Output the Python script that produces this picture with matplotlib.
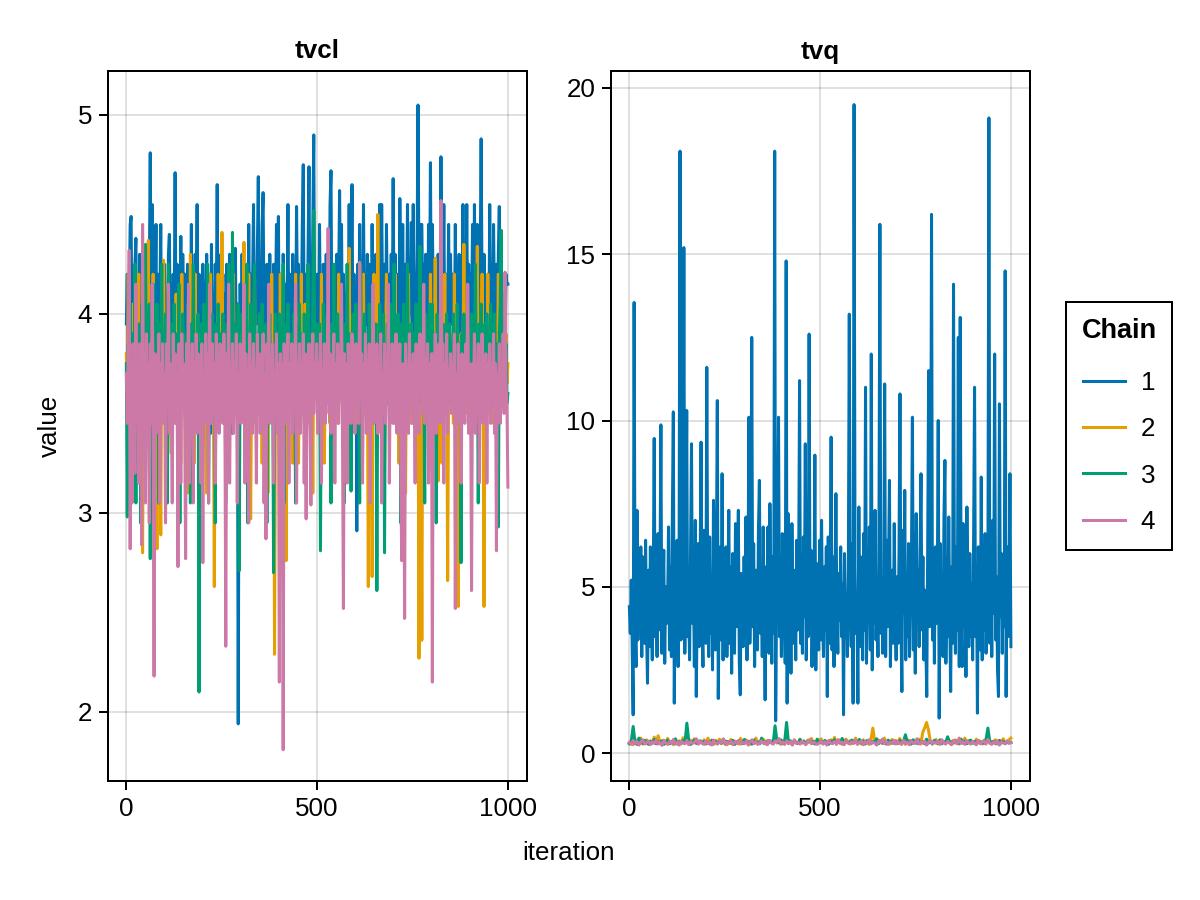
import numpy as np
import matplotlib
matplotlib.use("Agg")
import matplotlib.pyplot as plt
from matplotlib.lines import Line2D

plt.rcParams['font.family'] = ['Liberation Sans', 'DejaVu Sans']

params = ["tvcl", "tvq"]
chains = ["1", "2", "3", "4"]
colors = ["#0072B2", "#E69F00", "#009E73", "#CC79A7"]

tvcl_c1 = [
    3.95, 4.20, 3.62, 4.05, 4.45, 4.49, 3.80, 4.15, 3.30, 4.25, 4.38, 3.70, 4.10, 3.90, 4.30, 3.65, 4.15, 4.00, 3.85, 4.25,
    3.75, 4.30, 4.05, 3.40, 4.20, 4.81, 3.85, 4.55, 3.70, 4.10, 3.95, 4.45, 3.40, 4.20, 3.90, 4.05, 4.45, 3.75, 4.15, 3.95,
    4.25, 3.80, 4.05, 3.65, 4.30, 4.40, 3.90, 4.15, 3.70, 4.20, 3.95, 4.71, 3.85, 4.25, 3.40, 4.10, 4.00, 4.39, 3.75, 4.30,
    3.90, 4.20, 3.30, 4.05, 4.25, 3.80, 4.15, 3.95, 4.45, 3.70, 4.10, 3.85, 4.30, 4.00, 4.55, 3.75, 4.20, 3.90, 4.05, 3.65,
    4.25, 3.95, 4.15, 3.70, 4.30, 3.85, 4.05, 4.20, 3.40, 4.35, 3.90, 4.10, 3.75, 4.25, 4.00, 4.65, 3.85, 4.15, 3.70, 4.30,
    3.95, 4.20, 3.65, 4.10, 3.85, 4.25, 4.00, 3.75, 4.30, 3.90, 4.15, 3.40, 4.20, 3.95, 4.33, 3.80, 4.05, 1.94, 3.70, 4.15,
    3.85, 4.30, 3.95, 4.10, 3.70, 4.25, 4.00, 3.80, 4.45, 3.90, 4.20, 3.65, 4.15, 4.55, 3.85, 4.05, 3.95, 4.30, 4.69, 3.90,
    4.20, 3.80, 4.45, 4.61, 3.95, 4.15, 3.70, 4.25, 4.00, 3.85, 4.30, 3.95, 4.10, 3.75, 4.25, 3.90, 4.05, 4.45, 3.80, 4.49,
    3.85, 4.20, 3.95, 3.40, 4.30, 4.05, 3.75, 4.15, 3.95, 4.55, 3.80, 4.20, 4.05, 3.70, 4.30, 3.90, 4.15, 3.85, 4.54, 4.00,
    4.25, 3.80, 4.10, 3.95, 4.45, 4.75, 3.90, 4.20, 4.00, 3.75, 4.30, 4.74, 3.95, 4.15, 3.85, 4.45, 4.90, 3.85, 4.20, 4.00,
    4.20, 3.70, 4.45, 3.95, 4.10, 3.80, 4.25, 4.00, 3.75, 4.30, 3.90, 4.15, 3.85, 4.55, 4.72, 3.90, 4.25, 3.95, 4.10, 3.75,
    4.30, 3.85, 4.15, 4.62, 4.00, 4.45, 3.80, 4.20, 3.95, 4.10, 3.70, 4.25, 3.90, 4.55, 3.85, 4.15, 4.65, 3.80, 4.20, 3.95,
    4.10, 2.91, 4.25, 3.90, 4.45, 3.75, 4.20, 4.00, 4.55, 3.85, 4.15, 3.95, 4.30, 3.80, 4.25, 4.05, 3.70, 4.45, 3.90, 4.20,
    4.00, 4.30, 3.85, 4.15, 3.95, 4.55, 3.80, 4.55, 4.05, 3.90, 4.25, 3.75, 4.45, 4.00, 3.85, 4.20, 3.95, 4.30, 3.90, 4.68,
    3.95, 4.30, 3.80, 4.20, 4.05, 3.85, 4.58, 4.10, 3.90, 4.45, 3.85, 4.00, 4.25, 3.95, 4.55, 3.90, 4.15, 4.00, 4.46, 3.85,
    4.55, 3.95, 4.20, 3.85, 4.30, 5.05, 4.20, 3.85, 4.45, 4.45, 4.00, 4.25, 3.90, 4.30, 4.05, 3.80, 4.45, 4.00, 4.76, 3.90,
    4.45, 4.05, 3.85, 4.25, 4.00, 3.80, 4.30, 4.10, 3.95, 4.79, 4.10, 3.95, 4.55, 3.85, 4.20, 4.00, 3.90, 4.45, 3.75, 4.30,
    3.95, 4.20, 4.05, 3.85, 4.45, 3.90, 4.15, 4.00, 4.30, 3.80, 4.25, 3.95, 4.55, 3.85, 4.20, 4.05, 4.55, 3.90, 4.25, 3.85,
    4.20, 3.95, 4.45, 3.85, 4.55, 4.05, 3.90, 4.45, 4.00, 3.80, 4.25, 4.88, 4.10, 3.80, 4.30, 3.95, 4.15, 3.90, 4.20, 3.85,
    4.55, 3.95, 4.15, 3.85, 4.45, 4.00, 3.90, 4.25, 3.80, 4.30, 4.54, 3.90, 4.25, 3.95, 4.10, 4.00, 3.85, 4.20, 4.15, 4.15]

tvcl_c2 = [
    3.80, 3.55, 4.20, 3.70, 3.25, 3.85, 3.60, 4.05, 3.50, 3.75, 3.90, 3.45, 3.70, 4.20, 3.55, 3.80, 3.25, 2.80, 3.75, 3.60,
    3.45, 3.90, 3.65, 4.37, 3.55, 3.80, 3.10, 3.70, 4.20, 3.50, 3.85, 3.60, 2.82, 3.70, 3.90, 3.45, 2.89, 3.75, 4.20, 4.27,
    3.50, 3.85, 3.65, 3.25, 4.20, 3.60, 3.75, 3.30, 3.90, 3.55, 3.80, 3.45, 4.10, 3.65, 3.50, 3.85, 3.70, 3.25, 4.20, 3.60,
    3.75, 3.50, 3.80, 3.65, 3.10, 3.85, 3.55, 4.30, 3.70, 3.50, 3.85, 3.25, 4.20, 3.60, 3.75, 3.45, 3.90, 3.55, 3.80, 3.65,
    3.45, 3.90, 3.60, 3.75, 3.10, 3.85, 3.55, 3.70, 4.20, 3.50, 3.80, 3.60, 2.63, 3.70, 3.85, 3.45, 4.20, 3.60, 3.75, 3.50,
    4.41, 3.60, 3.85, 3.55, 3.70, 3.25, 3.90, 3.65, 3.80, 3.45, 3.75, 3.55, 4.20, 3.60, 3.85, 3.50, 3.70, 3.45, 3.90, 3.65,
    3.80, 3.55, 3.70, 4.36, 3.65, 3.85, 3.50, 3.75, 4.20, 3.60, 2.97, 3.70, 3.85, 3.45, 4.20, 3.60, 3.75, 3.50, 3.85, 3.55,
    4.00, 3.65, 3.25, 3.80, 3.55, 3.75, 3.60, 3.90, 3.10, 3.70, 3.85, 3.50, 4.20, 3.60, 3.75, 2.29, 3.65, 3.80, 3.45, 3.90,
    3.55, 4.20, 3.70, 3.45, 3.85, 3.60, 3.75, 2.76, 3.65, 3.80, 3.50, 3.90, 3.55, 3.75, 3.25, 3.85, 3.60, 4.20, 3.50, 3.80,
    3.25, 3.75, 3.60, 4.20, 3.50, 3.85, 3.65, 4.05, 3.55, 3.80, 3.45, 3.70, 3.90, 3.55, 3.75, 3.10, 3.85, 3.60, 3.90, 3.65,
    3.80, 3.55, 3.75, 3.50, 4.20, 3.60, 3.85, 3.25, 3.70, 3.90, 3.55, 3.80, 3.65, 3.45, 3.85, 3.37, 3.90, 3.60, 3.75, 3.55,
    3.80, 3.45, 4.20, 3.60, 4.00, 3.70, 3.55, 3.85, 3.65, 3.25, 3.75, 3.90, 3.55, 4.33, 3.60, 3.80, 3.50, 3.70, 3.85, 3.55,
    3.45, 3.90, 3.60, 3.75, 3.25, 3.85, 3.55, 3.70, 4.20, 3.50, 3.80, 3.60, 3.85, 2.63, 3.70, 3.55, 3.90, 2.68, 3.75, 4.20,
    3.50, 3.80, 3.65, 4.50, 3.55, 3.75, 3.45, 3.90, 3.60, 3.85, 3.25, 3.75, 4.20, 3.55, 3.80, 3.60, 3.45, 3.90, 3.65, 3.85,
    3.45, 4.20, 3.55, 3.70, 3.85, 3.25, 3.75, 3.60, 3.90, 3.50, 3.80, 3.65, 3.10, 3.85, 3.55, 4.20, 3.60, 3.75, 3.45, 3.80,
    3.55, 3.90, 3.60, 3.75, 3.45, 3.85, 2.27, 3.70, 3.60, 2.36, 3.75, 3.50, 3.90, 3.45, 3.85, 3.60, 3.75, 3.55, 4.20, 3.60,
    3.75, 3.50, 3.85, 4.28, 3.65, 3.80, 3.16, 3.90, 3.55, 3.75, 3.25, 3.85, 3.60, 4.20, 3.50, 3.80, 2.66, 3.70, 3.55, 3.90,
    3.60, 3.75, 3.45, 4.20, 3.55, 3.85, 3.70, 2.53, 3.80, 3.60, 3.90, 3.45, 3.75, 4.35, 3.60, 3.85, 3.50, 3.80, 3.65, 3.90,
    3.55, 3.75, 3.45, 3.90, 3.60, 3.80, 3.55, 4.34, 3.70, 3.85, 3.50, 3.75, 4.20, 3.60, 2.53, 3.70, 3.85, 3.55, 4.20, 3.65,
    3.50, 3.80, 3.60, 3.90, 3.45, 3.75, 3.55, 3.85, 3.65, 4.20, 3.50, 3.80, 3.60, 3.75, 3.85, 3.55, 3.70, 3.90, 3.65, 3.75]

tvcl_c3 = [
    3.75, 2.98, 3.85, 3.55, 4.05, 3.70, 3.40, 3.90, 3.65, 4.25, 3.05, 3.85, 3.60, 3.95, 3.75, 2.95, 4.05, 3.70, 3.85, 3.55,
    4.35, 3.60, 3.90, 3.70, 4.05, 2.77, 3.95, 3.65, 4.15, 2.95, 3.90, 3.60, 4.05, 3.75, 3.05, 3.95, 3.70, 4.25, 3.55, 3.85,
    3.65, 4.00, 3.75, 3.05, 4.25, 3.65, 3.85, 3.40, 3.95, 3.70, 4.05, 3.55, 3.90, 3.75, 3.60, 4.15, 2.95, 3.85, 3.70, 4.00,
    3.60, 3.90, 3.75, 3.55, 4.05, 3.70, 3.85, 3.05, 3.95, 3.65, 4.25, 3.75, 3.55, 3.90, 3.70, 4.00, 2.10, 3.85, 3.60, 3.95,
    3.70, 4.05, 3.55, 3.85, 3.65, 4.25, 3.05, 3.90, 3.75, 3.60, 4.00, 3.70, 3.85, 2.95, 3.95, 3.65, 4.05, 3.75, 3.55, 3.90,
    3.70, 4.00, 3.60, 3.85, 3.05, 3.95, 3.75, 4.25, 3.65, 3.90, 3.55, 4.41, 3.80, 3.95, 3.60, 3.85, 3.70, 4.05, 2.71, 3.80,
    3.65, 4.00, 3.75, 3.55, 3.90, 3.65, 4.25, 2.95, 3.85, 3.70, 4.05, 3.60, 3.90, 3.75, 4.25, 3.70, 3.55, 3.90, 3.65, 4.00,
    3.75, 3.55, 4.05, 3.70, 3.85, 3.60, 3.95, 2.95, 3.90, 3.75, 4.00, 3.60, 3.85, 3.70, 2.70, 3.75, 4.00, 3.65, 3.90, 3.55,
    4.00, 3.70, 3.85, 3.60, 4.25, 3.05, 3.95, 3.75, 3.65, 4.05, 3.55, 3.90, 3.70, 3.85, 3.60, 4.00, 3.75, 3.05, 3.95, 3.70,
    3.85, 4.05, 3.60, 3.90, 3.75, 3.55, 4.00, 3.70, 3.85, 3.65, 4.25, 3.55, 3.90, 3.75, 3.65, 4.05, 4.52, 3.80, 3.70, 3.95,
    3.70, 3.85, 3.95, 2.81, 3.75, 3.60, 4.05, 3.70, 3.90, 3.55, 4.00, 3.65, 3.85, 3.75, 3.05, 3.95, 3.70, 4.25, 3.60, 3.85,
    3.75, 4.00, 3.55, 3.90, 3.70, 4.05, 3.65, 3.85, 3.05, 3.95, 3.75, 4.25, 3.60, 3.90, 3.70, 3.11, 3.85, 4.00, 3.65, 3.90,
    4.05, 3.60, 3.90, 3.75, 3.05, 4.25, 3.70, 3.85, 3.55, 4.00, 3.65, 3.90, 3.75, 3.60, 4.05, 3.70, 3.85, 3.55, 3.95, 3.65,
    3.80, 3.95, 2.61, 3.85, 3.70, 4.05, 3.60, 3.90, 3.75, 4.00, 2.80, 3.85, 3.65, 3.95, 3.55, 3.90, 3.70, 4.05, 3.60, 3.85,
    4.25, 3.70, 3.90, 3.55, 4.00, 3.75, 3.85, 2.95, 3.95, 3.70, 4.05, 3.65, 3.90, 3.55, 4.25, 3.70, 3.85, 3.60, 3.95, 3.75,
    3.70, 3.90, 3.60, 4.05, 3.75, 3.85, 3.55, 4.34, 3.70, 3.95, 3.60, 3.85, 3.05, 4.00, 3.70, 3.90, 3.65, 4.05, 3.75, 3.85,
    4.05, 3.60, 3.90, 3.75, 2.95, 4.00, 3.70, 3.85, 3.55, 4.25, 3.65, 3.95, 3.75, 3.60, 3.85, 4.00, 3.70, 3.55, 3.95, 3.70,
    3.85, 3.60, 4.00, 3.75, 3.90, 3.55, 4.05, 3.70, 3.85, 3.65, 2.75, 3.90, 3.70, 4.00, 3.60, 3.85, 3.75, 4.05, 3.65, 3.90,
    3.70, 4.00, 3.55, 3.85, 3.75, 4.25, 3.65, 3.90, 3.05, 3.95, 3.70, 4.05, 3.60, 3.85, 3.75, 3.95, 3.55, 4.00, 3.70, 3.85,
    3.60, 4.05, 3.75, 3.90, 3.55, 4.00, 3.70, 3.85, 3.65, 2.93, 3.90, 4.05, 4.42, 3.75, 3.65, 3.95, 3.70, 3.85, 3.55, 3.60]

tvcl_c4 = [
    3.70, 3.45, 3.90, 4.32, 2.82, 3.75, 3.05, 3.85, 3.55, 3.20, 4.15, 3.45, 3.70, 3.15, 3.85, 3.60, 2.84, 4.45, 3.50, 3.80,
    3.05, 3.90, 3.55, 3.75, 2.95, 3.85, 3.45, 4.15, 3.60, 2.18, 3.80, 3.40, 3.70, 3.55, 3.90, 3.05, 3.75, 3.50, 3.85, 3.45,
    3.70, 2.95, 3.85, 3.55, 4.15, 3.40, 3.75, 3.60, 3.05, 3.90, 3.50, 3.80, 3.45, 3.70, 2.73, 3.85, 3.55, 3.15, 3.90, 3.60,
    3.75, 3.45, 2.77, 3.85, 3.50, 4.15, 3.15, 3.70, 3.60, 3.85, 3.05, 3.75, 3.50, 3.90, 3.40, 3.80, 3.55, 3.70, 3.15, 3.85,
    2.75, 3.70, 3.45, 3.90, 3.55, 3.80, 3.05, 4.15, 3.60, 3.45, 3.85, 3.50, 3.75, 3.15, 3.90, 3.60, 3.70, 3.40, 3.85, 3.55,
    3.75, 3.45, 3.90, 3.60, 2.33, 3.80, 3.50, 4.15, 3.15, 3.70, 3.55, 3.85, 3.40, 3.75, 3.60, 3.90, 3.05, 3.70, 3.50, 3.85,
    3.45, 3.75, 3.60, 4.15, 3.15, 3.80, 3.55, 3.70, 2.95, 3.90, 3.50, 3.75, 3.40, 3.85, 3.60, 3.70, 3.15, 3.90, 3.55, 3.80,
    3.40, 3.75, 3.60, 3.90, 3.05, 3.70, 2.87, 3.85, 3.55, 4.15, 3.45, 3.75, 3.60, 3.85, 3.15, 3.70, 3.55, 3.90, 3.40, 3.75,
    2.15, 3.80, 3.55, 3.75, 1.81, 3.85, 3.45, 3.70, 3.60, 3.90, 3.15, 3.75, 3.55, 3.85, 3.40, 3.70, 3.60, 4.15, 3.05, 3.75,
    3.55, 3.85, 3.40, 3.70, 3.60, 3.90, 3.15, 3.80, 2.97, 3.75, 3.55, 3.85, 3.45, 3.04, 3.70, 3.90, 3.50, 3.75, 3.60, 3.85,
    3.40, 3.75, 3.55, 3.90, 3.15, 3.70, 3.60, 3.85, 3.45, 3.75, 3.55, 4.43, 3.50, 3.80, 3.40, 3.70, 3.60, 3.90, 3.15, 3.75,
    3.55, 3.85, 3.45, 3.70, 3.60, 4.15, 3.40, 2.52, 3.80, 3.55, 3.75, 3.15, 3.85, 3.60, 3.70, 3.45, 3.90, 3.55, 3.75, 3.40,
    3.85, 3.55, 3.70, 3.45, 4.26, 3.60, 3.80, 3.15, 3.75, 3.55, 3.90, 3.40, 3.70, 3.60, 3.85, 3.05, 3.75, 3.55, 4.15, 3.45,
    3.70, 3.55, 3.85, 3.40, 3.75, 3.60, 3.90, 3.05, 3.70, 3.55, 3.85, 3.45, 3.75, 3.60, 4.15, 3.15, 3.70, 3.50, 3.85, 3.45,
    3.75, 3.55, 3.90, 3.40, 3.70, 3.60, 3.85, 3.15, 2.76, 3.75, 3.55, 2.47, 3.85, 3.60, 3.70, 3.40, 3.90, 3.55, 3.75, 3.45,
    3.80, 3.60, 3.15, 3.85, 3.55, 3.75, 3.40, 3.90, 3.60, 3.70, 3.50, 4.15, 3.45, 3.70, 3.60, 3.85, 3.15, 3.75, 3.55, 3.80,
    2.15, 3.80, 3.50, 3.90, 3.40, 3.75, 3.60, 3.85, 3.45, 4.57, 3.65, 3.85, 3.15, 3.75, 3.55, 3.90, 3.40, 3.70, 3.60, 3.80,
    3.50, 3.75, 3.60, 3.90, 2.52, 3.70, 3.45, 3.85, 3.55, 3.75, 3.15, 3.80, 3.60, 3.70, 3.45, 3.85, 3.55, 4.15, 3.40, 3.75,
    3.60, 2.61, 3.75, 3.55, 3.90, 3.40, 3.70, 3.60, 3.85, 3.15, 3.75, 3.55, 3.90, 3.45, 3.70, 3.60, 3.80, 3.15, 3.75, 3.55,
    3.85, 3.45, 3.70, 3.60, 3.90, 3.40, 3.75, 2.81, 3.70, 3.55, 3.85, 3.45, 3.75, 3.60, 3.90, 3.50, 4.21, 3.65, 3.55, 3.13]

tvq_c1 = [
    4.4, 3.6, 5.2, 3.1, 1.15, 13.55, 4.0, 2.6, 7.3, 3.4, 5.0, 3.8, 6.2, 2.9, 5.9, 4.1, 3.3, 6.4, 3.7, 2.1,
    5.5, 3.2, 6.2, 4.0, 2.8, 5.1, 9.46, 3.5, 4.8, 2.9, 6.6, 3.7, 5.3, 9.87, 3.0, 4.6, 6.1, 2.7, 5.0, 3.9,
    4.4, 6.8, 3.1, 5.6, 2.9, 7.2, 10.26, 1.5, 4.9, 3.6, 6.4, 2.6, 5.3, 18.1, 3.4, 6.0, 4.2, 15.2, 3.0, 5.8,
    10.3, 3.5, 4.7, 2.8, 6.1, 9.3, 3.9, 5.2, 2.6, 7.0, 1.7, 4.5, 6.3, 3.2, 5.4, 9.35, 3.8, 2.6, 6.7, 4.1,
    3.3, 11.6, 4.4, 2.9, 6.5, 3.6, 5.1, 2.5, 7.6, 4.0, 3.1, 5.8, 10.6, 1.64, 4.7, 6.2, 3.4, 8.4, 2.8, 5.5,
    3.7, 6.2, 2.9, 4.8, 7.3, 3.3, 5.6, 2.4, 6.0, 4.2, 3.0, 6.9, 3.8, 5.2, 7.3, 2.7, 1.75, 5.4, 4.1, 3.2,
    5.9, 3.5, 7.1, 2.8, 4.6, 10.1, 3.3, 5.0, 12.5, 3.8, 6.3, 2.6, 5.5, 4.0, 3.1, 6.7, 8.2, 3.6, 4.9, 2.9,
    6.8, 4.2, 1.6, 5.6, 3.4, 6.8, 3.0, 7.5, 4.4, 2.7, 5.9, 3.6, 18.1, 0.97, 4.8, 6.1, 10.1, 3.5, 5.2, 2.9,
    6.6, 3.8, 4.5, 2.7, 14.8, 1.5, 7.2, 3.9, 5.8, 2.4, 6.9, 4.3, 3.3, 5.5, 2.8, 6.4, 3.7, 4.9, 11.2, 3.3,
    5.2, 3.0, 6.5, 4.1, 9.3, 2.8, 5.7, 3.5, 12.6, 3.6, 6.1, 2.6, 4.7, 3.9, 8.96, 2.5, 5.7, 4.2, 3.1, 6.4,
    3.4, 7.0, 4.1, 2.9, 5.6, 3.7, 6.2, 1.7, 6.5, 3.3, 5.0, 9.5, 3.1, 5.9, 2.6, 4.6, 7.8, 4.3, 3.0, 5.4,
    4.0, 6.2, 3.5, 5.1, 1.15, 6.0, 3.8, 4.7, 2.9, 5.5, 13.2, 4.8, 3.2, 6.3, 1.5, 19.5, 5.6, 3.6, 4.4, 1.5,
    7.4, 3.2, 5.9, 4.5, 2.8, 6.6, 3.7, 11.0, 2.7, 5.3, 4.0, 6.8, 3.1, 12.0, 2.5, 5.6, 3.9, 7.3, 3.4, 4.6,
    2.9, 6.4, 15.9, 3.6, 5.2, 3.0, 4.8, 11.1, 2.9, 6.4, 3.8, 5.5, 8.2, 2.6, 4.9, 5.5, 3.3, 6.9, 4.2, 2.8,
    5.3, 3.3, 6.0, 10.8, 3.9, 1.85, 6.7, 4.2, 7.9, 2.8, 5.4, 3.5, 6.3, 2.9, 4.7, 5.8, 10.1, 3.1, 6.6, 2.4,
    7.2, 4.0, 5.5, 3.2, 6.1, 8.4, 3.7, 5.9, 2.8, 4.9, 3.4, 1.7, 6.3, 11.5, 3.8, 5.0, 16.2, 3.4, 5.8, 2.7,
    6.2, 3.9, 4.8, 10.0, 1.05, 6.3, 3.6, 5.4, 2.9, 7.1, 8.8, 2.7, 5.0, 3.5, 7.1, 4.2, 1.85, 5.6, 3.3, 14.1,
    4.5, 3.0, 6.2, 3.7, 12.5, 2.6, 13.1, 4.0, 2.6, 6.9, 3.8, 5.7, 2.3, 7.4, 4.4, 3.2, 6.0, 3.5, 5.1, 2.8,
    6.5, 11.0, 3.5, 5.4, 1.2, 6.2, 4.0, 3.1, 8.3, 2.8, 5.6, 3.7, 6.6, 3.0, 4.9, 5.8, 19.1, 3.3, 6.1, 2.9,
    7.0, 4.2, 12.0, 3.4, 5.3, 2.5, 1.7, 10.5, 4.1, 6.0, 3.0, 5.5, 3.8, 14.5, 1.7, 6.2, 3.5, 4.7, 8.4, 3.2]

tvq_c2 = [
    0.30, 0.38, 0.25, 0.42, 0.28, 0.35, 0.45, 0.27, 0.33, 0.40, 0.26, 0.36, 0.31, 0.48, 0.29, 0.52, 0.34, 0.27, 0.39, 0.30,
    0.44, 0.28, 0.35, 0.25, 0.41, 0.32, 0.37, 0.27, 0.46, 0.30, 0.34, 0.26, 0.39, 0.31, 0.43, 0.28, 0.36, 0.33, 0.29, 0.40,
    0.27, 0.45, 0.31, 0.35, 0.26, 0.38, 0.30, 0.42, 0.28, 0.34, 0.37, 0.25, 0.33, 0.41, 0.29, 0.36, 0.31, 0.27, 0.44, 0.32,
    0.28, 0.39, 0.34, 0.26, 0.37, 0.30, 0.45, 0.29, 0.35, 0.32, 0.41, 0.27, 0.38, 0.31, 0.36, 0.28, 0.43, 0.30, 0.34, 0.26,
    0.38, 0.31, 0.47, 0.28, 0.35, 0.25, 0.40, 0.33, 0.29, 0.42, 0.30, 0.36, 0.27, 0.39, 0.32, 0.44, 0.28, 0.35, 0.30, 0.37,
    0.43, 0.28, 0.36, 0.33, 0.27, 0.40, 0.31, 0.47, 0.29, 0.35, 0.38, 0.26, 0.34, 0.42, 0.30, 0.37, 0.28, 0.33, 0.45, 0.31,
    0.35, 0.27, 0.40, 0.30, 0.36, 0.26, 0.42, 0.75, 0.34, 0.28, 0.39, 0.33, 0.29, 0.45, 0.30, 0.36, 0.27, 0.41, 0.32, 0.38,
    0.28, 0.44, 0.31, 0.35, 0.26, 0.40, 0.33, 0.38, 0.29, 0.36, 0.31, 0.42, 0.27, 0.62, 0.75, 0.92, 0.70, 0.34, 0.28, 0.32,
    0.41, 0.27, 0.37, 0.30, 0.35, 0.28, 0.43, 0.31, 0.36, 0.29, 0.40, 0.33, 0.27, 0.38, 0.31, 0.45, 0.29, 0.38, 0.30, 0.35,
    0.28, 0.42, 0.31, 0.36, 0.27, 0.39, 0.33, 0.45, 0.29, 0.35, 0.31, 0.40, 0.27, 0.37, 0.32, 0.43, 0.29, 0.36, 0.40, 0.45]

tvq_c3 = [
    0.28, 0.35, 0.80, 0.30, 0.26, 0.45, 0.33, 0.29, 0.38, 0.31, 0.27, 0.36, 0.30, 0.41, 0.28, 0.34, 0.29, 0.37, 0.26, 0.32,
    0.39, 0.28, 0.35, 0.30, 0.43, 0.27, 0.33, 0.31, 0.38, 0.29, 0.90, 0.36, 0.26, 0.34, 0.40, 0.30, 0.28, 0.37, 0.31, 0.35,
    0.29, 0.33, 0.27, 0.39, 0.31, 0.36, 0.28, 0.34, 0.30, 0.42, 0.27, 0.35, 0.32, 0.29, 0.38, 0.26, 0.33, 0.37, 0.30, 0.28,
    0.41, 0.34, 0.29, 0.36, 0.27, 0.39, 0.31, 0.33, 0.28, 0.45, 0.30, 0.35, 0.27, 0.38, 0.32, 0.29, 0.82, 0.36, 0.31, 0.40,
    0.28, 0.34, 0.92, 0.30, 0.37, 0.27, 0.35, 0.32, 0.29, 0.41, 0.31, 0.36, 0.28, 0.33, 0.39, 0.30, 0.35, 0.27, 0.42, 0.31,
    0.34, 0.29, 0.38, 0.31, 0.27, 0.36, 0.33, 0.40, 0.28, 0.35, 0.30, 0.44, 0.27, 0.37, 0.32, 0.29, 0.39, 0.31, 0.35, 0.28,
    0.41, 0.30, 0.36, 0.27, 0.38, 0.33, 0.29, 0.35, 0.31, 0.43, 0.28, 0.37, 0.30, 0.34, 0.27, 0.39, 0.32, 0.36, 0.29, 0.33,
    0.30, 0.38, 0.28, 0.35, 0.55, 0.31, 0.36, 0.27, 0.40, 0.33, 0.29, 0.37, 0.31, 0.34, 0.28, 0.42, 0.30, 0.35, 0.27, 0.38,
    0.32, 0.29, 0.40, 0.28, 0.34, 0.31, 0.49, 0.33, 0.27, 0.37, 0.31, 0.35, 0.29, 0.42, 0.30, 0.36, 0.28, 0.33, 0.39, 0.30,
    0.35, 0.28, 0.37, 0.31, 0.33, 0.29, 0.40, 0.75, 0.34, 0.30, 0.36, 0.28, 0.33, 0.38, 0.30, 0.35, 0.28, 0.33, 0.30, 0.32]

tvq_c4 = [
    0.32, 0.26, 0.38, 0.29, 0.35, 0.24, 0.33, 0.40, 0.27, 0.31, 0.36, 0.25, 0.34, 0.29, 0.39, 0.27, 0.32, 0.23, 0.37, 0.30,
    0.26, 0.35, 0.29, 0.41, 0.27, 0.33, 0.24, 0.36, 0.30, 0.28, 0.38, 0.25, 0.34, 0.29, 0.32, 0.43, 0.27, 0.35, 0.30, 0.26,
    0.37, 0.28, 0.33, 0.24, 0.39, 0.30, 0.27, 0.35, 0.31, 0.42, 0.26, 0.33, 0.29, 0.36, 0.25, 0.34, 0.30, 0.38, 0.27, 0.32,
    0.29, 0.36, 0.24, 0.33, 0.40, 0.28, 0.35, 0.26, 0.31, 0.37, 0.29, 0.34, 0.25, 0.38, 0.30, 0.27, 0.36, 0.32, 0.44, 0.28,
    0.33, 0.26, 0.37, 0.30, 0.35, 0.24, 0.39, 0.29, 0.32, 0.27, 0.36, 0.31, 0.25, 0.34, 0.40, 0.28, 0.33, 0.30, 0.26, 0.31,
    0.36, 0.27, 0.34, 0.24, 0.38, 0.30, 0.28, 0.35, 0.26, 0.41, 0.29, 0.33, 0.25, 0.37, 0.31, 0.27, 0.34, 0.29, 0.39, 0.26,
    0.32, 0.37, 0.25, 0.34, 0.29, 0.40, 0.27, 0.33, 0.30, 0.24, 0.36, 0.31, 0.42, 0.28, 0.35, 0.26, 0.33, 0.29, 0.38, 0.27,
    0.35, 0.30, 0.26, 0.39, 0.28, 0.33, 0.25, 0.37, 0.31, 0.29, 0.43, 0.27, 0.34, 0.30, 0.36, 0.24, 0.32, 0.38, 0.28, 0.33,
    0.29, 0.36, 0.26, 0.40, 0.31, 0.27, 0.35, 0.30, 0.25, 0.38, 0.32, 0.28, 0.45, 0.29, 0.34, 0.26, 0.37, 0.31, 0.27, 0.35,
    0.30, 0.25, 0.38, 0.28, 0.33, 0.36, 0.27, 0.41, 0.30, 0.26, 0.34, 0.29, 0.37, 0.24, 0.33, 0.31, 0.28, 0.36, 0.30, 0.31]

series = {
    "tvcl": [tvcl_c1, tvcl_c2, tvcl_c3, tvcl_c4],
    "tvq": [tvq_c1, tvq_c2, tvq_c3, tvq_c4],
}
n_iter = 1000
xticks = [0, 500, 1000]
yticks = {"tvcl": [2, 3, 4, 5], "tvq": [0, 5, 10, 15, 20]}
ylims = {"tvcl": (1.653, 5.221), "tvq": (-0.84, 20.51)}

W, H = 1200, 900
fig = plt.figure(figsize=(8, 6), dpi=150)
FS = 12.5
LW = 1.45

axes_px = {"tvcl": (108, 71, 527, 781), "tvq": (611, 71, 1030, 781)}
for p in params:
    x0, y0, x1, y1 = axes_px[p]
    ax = fig.add_axes([x0 / W, 1 - y1 / H, (x1 - x0) / W, (y1 - y0) / H])
    for vals, c in zip(series[p], colors):
        it = np.linspace(1, n_iter, len(vals))
        ax.plot(it, vals, color=c, lw=LW)
    ax.set_xlim(-47, 1050)
    ax.set_ylim(*ylims[p])
    ax.set_xticks(xticks)
    ax.set_yticks(yticks[p])
    ax.grid(True, color='black', alpha=0.12, lw=0.96)
    ax.set_axisbelow(True)
    for s in ax.spines.values():
        s.set_linewidth(0.96)
    ax.tick_params(direction='out', length=4.5, width=0.96, labelsize=FS, pad=3)
    ax.set_title(p, fontsize=FS, fontweight='bold', pad=6)

fig.text(569 / W, 1 - 853 / H, "iteration", ha='center', va='center', fontsize=FS)
fig.text(50 / W, 1 - 426 / H, "value", ha='center', va='center', rotation=90, fontsize=FS)

handles = [Line2D([], [], color=c, lw=LW) for c in colors]
leg = fig.legend(handles, chains, title="Chain", loc='upper left',
                 bbox_to_anchor=(1066 / W, 1 - 302 / H), fontsize=FS,
                 title_fontproperties={'weight': 'bold', 'size': 13},
                 frameon=True, fancybox=False, edgecolor='black', framealpha=1,
                 handlelength=1.6, handletextpad=0.6, labelspacing=0.86, borderpad=0.6,
                 borderaxespad=0)
leg.get_frame().set_linewidth(0.96)
leg._legend_box.sep = 13

fig.savefig("out.png", dpi=150)
